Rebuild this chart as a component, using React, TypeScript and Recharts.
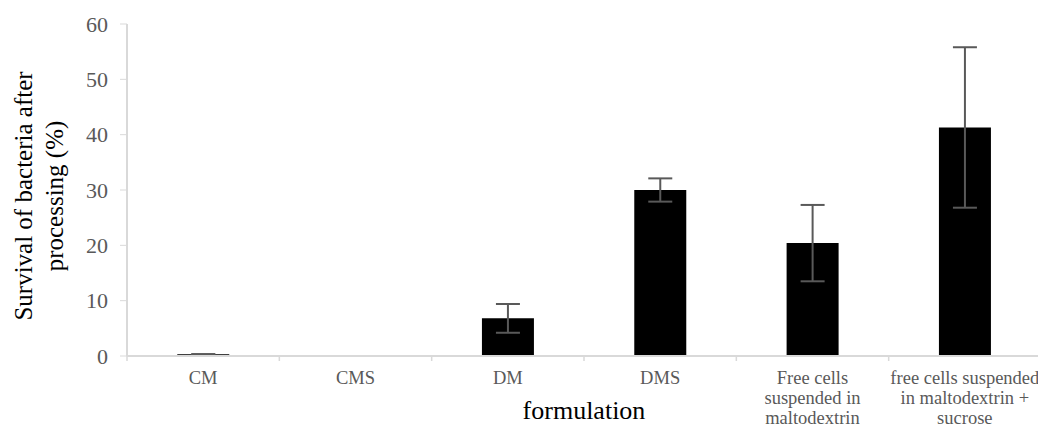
import { BarChart, Bar, XAxis, YAxis, ErrorBar } from "recharts";

const CATEGORIES = [
  "CM",
  "CMS",
  "DM",
  "DMS",
  "Free cells\nsuspended in\nmaltodextrin",
  "free cells suspended\nin maltodextrin +\nsucrose",
];
const SURVIVAL = [0.3, 0, 6.8, 30.0, 20.4, 41.3];
const SURVIVAL_ERR = [0.05, 0, 2.6, 2.1, 6.9, 14.5];
const Y_TICKS = [0, 10, 20, 30, 40, 50, 60];

const data = CATEGORIES.map((name, i) => ({
  name,
  value: SURVIVAL[i],
  err: SURVIVAL_ERR[i],
}));

const FONT = '"Liberation Serif", "Times New Roman", serif';
const AXIS_GRAY = "#d9d9d9";
const LABEL_GRAY = "#595959";
const CHART_W = 1050;
const PLOT_LEFT = 127;
const PLOT_RIGHT_MARGIN = 9;
const BAND = (CHART_W - PLOT_LEFT - PLOT_RIGHT_MARGIN) / CATEGORIES.length;

const FONT_CSS = `
#root div.chart-box svg text,
#root div.chart-box svg tspan {
  font-family: "Liberation Serif", "Times New Roman", serif !important;
}
`;

function CategoryTick(props: any) {
  const { x, y, payload } = props;
  const lines = String(payload.value).split("\n");
  return (
    <g>
      <line x1={x - BAND / 2} x2={x - BAND / 2} y1={y} y2={y + 5} stroke={AXIS_GRAY} strokeWidth={1.5} />
      <text x={x} y={y} textAnchor="middle" fill={LABEL_GRAY} fontFamily={FONT} fontSize={18.5}>
        {lines.map((line, i) => (
          <tspan key={i} x={x} dy={i === 0 ? 28 : 20}>
            {line}
          </tspan>
        ))}
      </text>
    </g>
  );
}

function YTitle(props: any) {
  const { viewBox } = props;
  const cy = viewBox.y + viewBox.height / 2 + 6;
  return (
    <g fontFamily={FONT} fontSize={25} fill="#000">
      <text x={32} y={cy} textAnchor="middle" transform={`rotate(-90, 32, ${cy})`}>
        Survival of bacteria after
      </text>
      <text x={63} y={cy} textAnchor="middle" transform={`rotate(-90, 63, ${cy})`}>
        processing (%)
      </text>
    </g>
  );
}

function XTitle(props: any) {
  const { viewBox } = props;
  const cx = viewBox.x + viewBox.width / 2;
  return (
    <text x={cx} y={419} textAnchor="middle" fontFamily={FONT} fontSize={26} fill="#000">
      formulation
    </text>
  );
}

export default function App() {
  return (
    <div
      className="chart-box"
      style={{
        position: "fixed",
        left: 0,
        top: 0,
        width: 1038,
        height: 428,
        overflow: "hidden",
        background: "#fff",
        fontFamily: FONT,
      }}
    >
      <style>{FONT_CSS}</style>
      <BarChart
        width={CHART_W}
        height={428}
        data={data}
        margin={{ top: 24, right: PLOT_RIGHT_MARGIN, left: 0, bottom: 0 }}
        barCategoryGap="33%"
      >
        <XAxis
          dataKey="name"
          interval={0}
          axisLine={{ stroke: AXIS_GRAY, strokeWidth: 2 }}
          tickLine={false}
          tickSize={0}
          tickMargin={0}
          tick={<CategoryTick />}
          height={72}
          label={<XTitle />}
        />
        <YAxis
          domain={[0, 60]}
          ticks={Y_TICKS}
          width={PLOT_LEFT}
          axisLine={{ stroke: AXIS_GRAY, strokeWidth: 2 }}
          tickLine={{ stroke: AXIS_GRAY }}
          tickSize={7}
          tickMargin={12}
          tick={{ fill: LABEL_GRAY, fontSize: 22, fontFamily: FONT }}
          label={<YTitle />}
        />
        <Bar dataKey="value" fill="#000" isAnimationActive={false}>
          <ErrorBar dataKey="err" width={12} stroke={LABEL_GRAY} strokeWidth={2} />
        </Bar>
      </BarChart>
    </div>
  );
}
